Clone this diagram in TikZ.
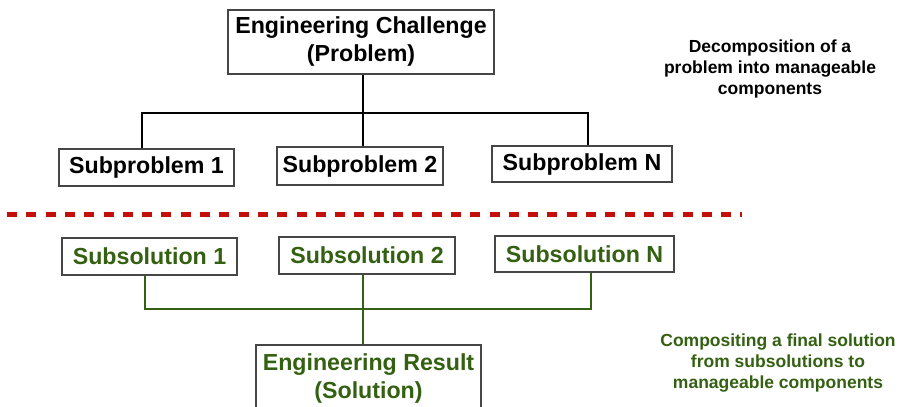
\documentclass[tikz,border=0pt]{standalone}
\usepackage{fontspec}
\setmainfont{Liberation Sans}
\definecolor{solgreen}{RGB}{52,96,18}
\definecolor{divred}{RGB}{196,16,10}
\definecolor{boxgray}{RGB}{70,70,70}
\begin{document}
\begin{tikzpicture}[x=1pt,y=-1pt,
  box/.style={draw=boxgray,line width=1.2pt,fill=white,inner sep=0pt,align=center,
    font=\fontsize{23.2}{28}\selectfont\bfseries},
  solbox/.style={box,text=solgreen},
  note/.style={align=center,font=\fontsize{17.5}{21}\selectfont\bfseries},
  link/.style={line width=2.8pt},
  glink/.style={line width=2.6pt,draw=solgreen}]
\useasboundingbox (0,0) rectangle (903,407);
% upper tree
\node[box,minimum width=266pt,minimum height=64pt] (ch) at (361,42) {Engineering Challenge\\(Problem)};
\node[box,minimum width=175pt,minimum height=37pt] (sp1) at (146.5,167.5) {Subproblem 1};
\node[box,minimum width=166pt,minimum height=38pt] (sp2) at (360,166) {Subproblem 2};
\node[box,minimum width=180pt,minimum height=36pt] (spn) at (582,164) {Subproblem N};
\coordinate (jt) at (363,113);
\draw[link] (jt |- ch.south) -- (jt |- sp2.north);
\draw[link] ([xshift=-4.5pt]sp1.north) |- (jt) -| ([xshift=6pt]spn.north);
% divider
\coordinate (dl) at (7,214);
\coordinate (dr) at (742,214);
\draw[draw=divred,line width=5pt,dash pattern=on 10pt off 9.3pt] (dl) -- (dr);
% lower tree
\node[solbox,minimum width=175pt,minimum height=37pt] (ss1) at (149.5,256.5) {Subsolution 1};
\node[solbox,minimum width=176pt,minimum height=37pt] (ss2) at (367,255.5) {Subsolution 2};
\node[solbox,minimum width=179pt,minimum height=36pt] (ssn) at (584.5,254) {Subsolution N};
\node[solbox,minimum width=225pt,minimum height=67pt] (res) at (368.5,378.5) {Engineering Result\\(Solution)};
\coordinate (jb) at (363,309);
\draw[glink] (jb |- ss2.south) -- (jb |- res.north);
\draw[glink] ([xshift=-4.5pt]ss1.south) |- (jb) -| ([xshift=6.5pt]ssn.south);
% notes
\node[note] (dec) at (770,69) {Decomposition of a\\problem into manageable\\components};
\node[note,text=solgreen] (comp) at (778,363) {Compositing a final solution\\from subsolutions to\\manageable components};
\end{tikzpicture}
\end{document}
